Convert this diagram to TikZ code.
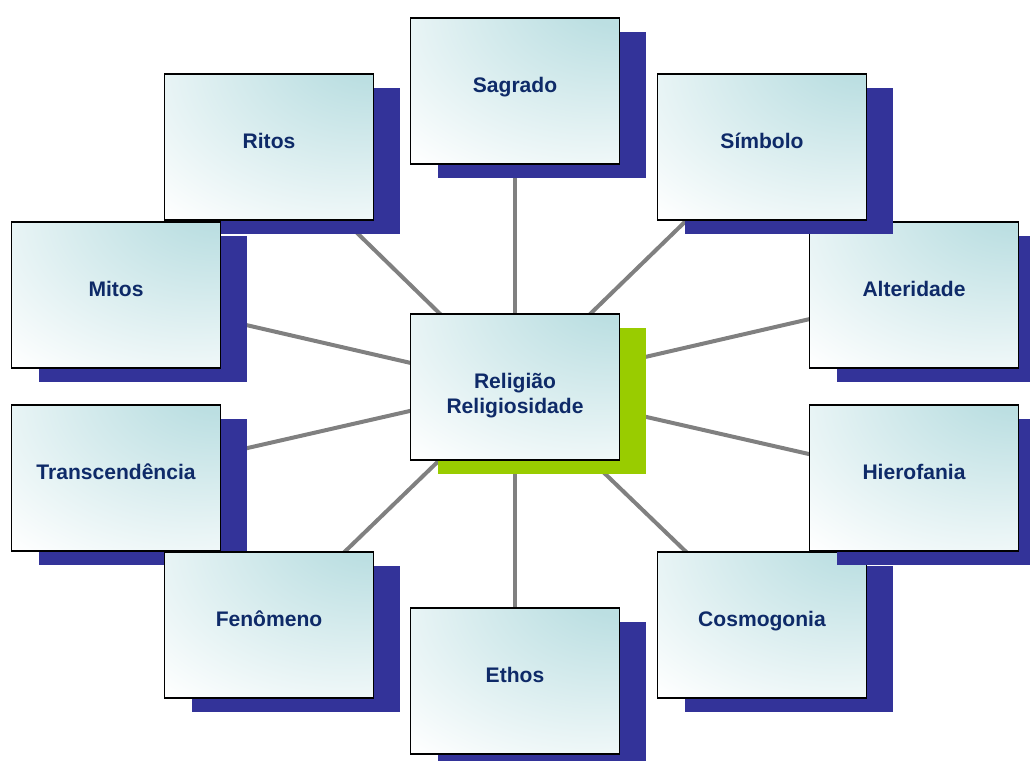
\documentclass[tikz,border=0pt]{standalone}
\usepackage{fontspec}
\setmainfont{Liberation Sans}
\usetikzlibrary{positioning,shadows,backgrounds}
\definecolor{boxtint}{RGB}{188,223,226}
\definecolor{textnavy}{RGB}{14,42,104}
\definecolor{shadowblue}{RGB}{51,51,153}
\definecolor{shadowgreen}{RGB}{153,204,0}
\definecolor{linkgray}{RGB}{128,128,128}
\pgfdeclareradialshading{cornerglow}{\pgfpoint{28bp}{38bp}}{%
  color(0bp)=(boxtint); color(12bp)=(boxtint); color(60bp)=(white); color(130bp)=(white)}

\begin{document}
\begin{tikzpicture}[
  x=0.75pt, y=-0.75pt,
  box/.style={draw=black, line width=1.1pt, shading=cornerglow,
    minimum width=156.5pt, minimum height=109.5pt, align=center, text=textnavy,
    text height=12pt, text depth=9.5pt,
    font=\fontsize{15.8}{18.5}\selectfont\bfseries},
  topic/.style={box, drop shadow={shadow xshift=20.25pt, shadow yshift=-10.5pt, fill=shadowblue, opacity=1}},
  hub/.style={box, text height=40pt, text depth=1pt, drop shadow={shadow xshift=20.25pt, shadow yshift=-10.5pt, fill=shadowgreen, opacity=1}},
  link/.style={draw=linkgray, line width=3pt}
]
\path[use as bounding box, clip] (0,0) rectangle (1030,760);
\node[hub] (rel) at (515,387) {Religião\\Religiosidade};
\node[topic] (sagrado) at (515,91) {Sagrado};
\node[topic] (ritos) at (269,147) {Ritos};
\node[topic] (mitos) at (116,295) {Mitos};
\node[topic] (transc) at (116,478) {Transcendência};
\node[topic] (fenom) at (269,625) {Fenômeno};
\node[topic] (ethos) at (515,681) {Ethos};
\node[topic] (cosmo) at (762,625) {Cosmogonia};
\node[topic] (hiero) at (914,478) {Hierofania};
\node[topic] (alter) at (914,295) {Alteridade};
\node[topic] (simb) at (762,147) {Símbolo};
% spokes behind the boxes
\begin{scope}[on background layer]
\foreach \t in {sagrado,ritos,mitos,transc,fenom,ethos,cosmo,hiero,alter,simb}
  \draw[link] (rel.center) -- (\t.center);
\end{scope}
\end{tikzpicture}
\end{document}
